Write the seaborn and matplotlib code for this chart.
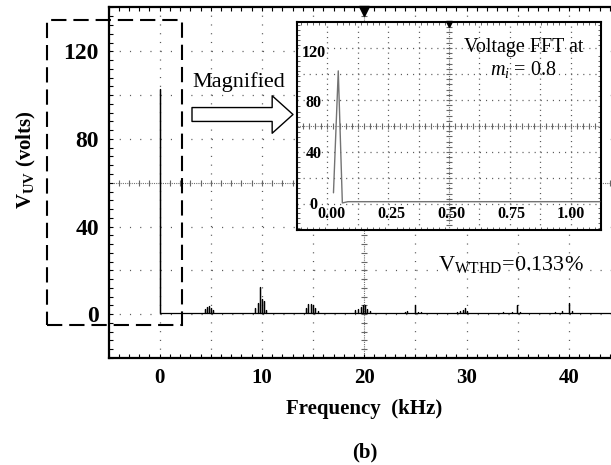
import numpy as np
import pandas as pd
import matplotlib
matplotlib.use("Agg")
import matplotlib.pyplot as plt
import seaborn as sns
from matplotlib.patches import Rectangle, FancyArrowPatch
from matplotlib.ticker import MultipleLocator

# ------------------------------------------------------------------ data
fund_freq_khz = 0.0
fund_amp_v = 103.0
noise_floor_v = 0.4
trace_end_khz = 45.0

harm_freq_khz = [4.44, 4.67, 4.83, 5.00, 5.22,
                 9.34, 9.57, 9.83, 10.00, 10.22, 10.39,
                 14.31, 14.54, 14.77, 14.96, 15.20, 15.45,
                 19.05, 19.37, 19.64, 19.87, 20.07, 20.26, 20.52,
                 23.95, 24.18, 24.93, 25.26, 25.59,
                 29.02, 29.34, 29.67, 29.87, 30.06,
                 33.59, 34.41, 34.90, 35.23,
                 38.66, 39.31, 40.00, 40.30]
harm_amp_v = [2.5, 3.2, 3.6, 3.0, 2.0,
              3.0, 5.0, 12.5, 7.0, 6.0, 2.0,
              3.0, 4.5, 4.5, 4.0, 3.0, 1.5,
              2.0, 2.5, 3.5, 4.0, 4.0, 2.5, 1.5,
              1.0, 1.5, 4.0, 1.0, 0.8,
              1.0, 1.5, 2.0, 2.7, 1.5,
              1.0, 1.0, 4.0, 1.0,
              1.0, 1.5, 5.0, 1.5]

x_ticks = [0, 10, 20, 30, 40]
x_tick_labels = ["0", "10", "20", "30", "40"]
y_ticks = [0, 40, 80, 120]
y_tick_labels = ["0", "40", "80", "120"]

# magnified inset (kHz, volts)
inset_freq_khz = [0.010, 0.030, 0.047, 0.070, 1.120]
inset_amp_v = [8.0, 104.0, 0.0, 1.0, 1.0]
inset_x_ticks = [0.0, 0.25, 0.50, 0.75, 1.00]
inset_x_tick_labels = ["0.00", "0.25", "0.50", "0.75", "1.00"]
inset_y_ticks = [0, 40, 80, 120]
inset_y_tick_labels = ["0", "40", "80", "120"]

# ------------------------------------------------------------------ style
sns.set_theme(style="white")
plt.rcParams["font.family"] = ["Liberation Serif", "DejaVu Serif"]
plt.rcParams["mathtext.fontset"] = "custom"
plt.rcParams["mathtext.rm"] = "Liberation Serif"
plt.rcParams["mathtext.it"] = "Liberation Serif:italic"
plt.rcParams["mathtext.bf"] = "Liberation Serif:bold"
plt.rcParams["lines.scale_dashes"] = False

W, H = 611, 465
fig = plt.figure(figsize=(W / 100, H / 100), dpi=100)
fig.patch.set_facecolor("white")


def fx(px):
    return px / W


def fy(py):
    return 1 - py / H


def scope_grid(ax, nx, ny, wpx, hpx, grid_color="0.35"):
    """Oscilloscope style dotted graticule with a ticked centre cross."""
    tr = ax.transAxes
    sub_x = wpx / nx / 5 * 0.72  # points between dots along horizontal lines
    sub_y = hpx / ny / 5 * 0.72
    for i in range(1, nx):
        if i == nx // 2:
            continue
        ax.plot([i / nx, i / nx], [0, 1], transform=tr, color=grid_color,
                lw=0.9, dashes=(0.8, sub_y - 0.8), zorder=0.5)
    for j in range(1, ny):
        if j == ny // 2:
            continue
        ax.plot([0, 1], [j / ny, j / ny], transform=tr, color=grid_color,
                lw=0.9, dashes=(0.8, sub_x - 0.8), zorder=0.5)
    # centre cross
    ax.plot([0, 1], [0.5, 0.5], transform=tr, color="0.45", lw=0.8,
            dashes=(0.8, 0.8), zorder=0.5)
    ax.plot([0.5, 0.5], [0, 1], transform=tr, color="0.45", lw=0.8,
            dashes=(0.8, 0.8), zorder=0.5)
    mx = np.arange(1, nx * 5) / (nx * 5)
    my = np.arange(1, ny * 5) / (ny * 5)
    ax.plot(mx, np.full_like(mx, 0.5), transform=tr, ls="none", marker="|",
            ms=4, mew=0.8, color="0.4", zorder=0.5)
    ax.plot(np.full_like(my, 0.5), my, transform=tr, ls="none", marker="_",
            ms=4, mew=0.8, color="0.4", zorder=0.5)


# ------------------------------------------------------------------ main axes
ax_l, ax_r, ax_t, ax_b = 108.5, 620.0, 7.5, 358.0
ax = fig.add_axes([fx(ax_l), fy(ax_b), (ax_r - ax_l) / W, (ax_b - ax_t) / H])
ax.set_facecolor("white")
ax.set_xlim(-5, 45)
ax.set_ylim(-20, 140)
scope_grid(ax, 10, 8, ax_r - ax_l, ax_b - ax_t)

# spectrum trace
tx = [fund_freq_khz, fund_freq_khz, fund_freq_khz]
ty = [noise_floor_v, fund_amp_v, noise_floor_v]
for f, a in zip(harm_freq_khz, harm_amp_v):
    tx += [f, f, f]
    ty += [noise_floor_v, a, noise_floor_v]
tx.append(trace_end_khz)
ty.append(noise_floor_v)
trace = pd.DataFrame({"freq": tx, "amp": ty})
sns.lineplot(data=trace, x="freq", y="amp", sort=False, estimator=None,
             color="black", lw=0.9, ax=ax, zorder=3)

ax.set_xticks(x_ticks)
ax.set_xticklabels(x_tick_labels, fontsize=15, fontweight="bold")
ax.set_yticks(y_ticks)
ax.set_yticklabels(y_tick_labels, fontsize=17, fontweight="bold")
ax.xaxis.set_minor_locator(MultipleLocator(1))
ax.yaxis.set_minor_locator(MultipleLocator(4))
ax.tick_params(which="both", direction="in", bottom=True, top=True,
               left=True, right=False, length=3, width=0.8, color="black")
ax.tick_params(axis="x", which="major", pad=7, colors="black")
ax.tick_params(axis="y", which="major", pad=7, colors="black")
for s in ax.spines.values():
    s.set_visible(True)
    s.set_color("black")
    s.set_linewidth(1.6)

ax.set_xlabel("Frequency  (kHz)", fontsize=15, fontweight="bold", color="black")
ax.xaxis.set_label_coords(0.5, -0.118)
ax.set_ylabel(r"$\mathbf{V}_{\mathbf{UV}}$ (volts)", fontsize=15,
              fontweight="bold", color="black")
ax.yaxis.set_label_coords(-0.137, 0.565)
ax.plot([0.5], [1 - 3.5 / (ax_b - ax_t)], transform=ax.transAxes, marker="v",
        ms=7, color="black", clip_on=False, zorder=5)

# ------------------------------------------------------------------ inset
in_l, in_r, in_t, in_b = 297.0, 601.0, 22.0, 230.0
axin = fig.add_axes([fx(in_l), fy(in_b), (in_r - in_l) / W, (in_b - in_t) / H])
axin.set_facecolor("white")
axin.set_xlim(-0.142, 1.125)
axin.set_ylim(-21.3, 142.5)
scope_grid(axin, 10, 8, in_r - in_l, in_b - in_t)
inset_df = pd.DataFrame({"freq": inset_freq_khz, "amp": inset_amp_v})
sns.lineplot(data=inset_df, x="freq", y="amp", sort=False, estimator=None,
             color="0.45", lw=1.0, ax=axin, zorder=3)
axin.set_xticks(inset_x_ticks)
axin.set_xticklabels(inset_x_tick_labels, fontsize=11.5, fontweight="bold")
axin.set_yticks(inset_y_ticks)
axin.set_yticklabels(inset_y_tick_labels, fontsize=11.5, fontweight="bold")
axin.xaxis.set_minor_locator(MultipleLocator(0.025))
axin.yaxis.set_minor_locator(MultipleLocator(4))
axin.tick_params(which="major", length=0)
axin.tick_params(which="minor", direction="in", bottom=True, top=True,
                 left=True, right=True, length=2, width=0.6, color="0.3")
axin.tick_params(axis="x", which="major", pad=-17.3, colors="black")
axin.tick_params(axis="y", which="major", pad=-12.0, colors="black")
for lab in axin.get_yticklabels():
    lab.set_ha("center")
axin.set_xlabel("")
axin.set_ylabel("")
for s in axin.spines.values():
    s.set_visible(True)
    s.set_color("black")
    s.set_linewidth(1.5)
axin.plot([0.5], [1 - 2.5 / (in_b - in_t)], transform=axin.transAxes,
          marker="v", ms=5, color="black", clip_on=False, zorder=5)
fig.text(fx(524), fy(51.7), "Voltage FFT at", fontsize=14.5, ha="center",
         va="baseline", color="black")
fig.text(fx(523), fy(75), r"$m_i$ = 0.8", fontsize=14.5, ha="center",
         va="baseline", color="black")

# ------------------------------------------------------------------ annotations
fig.add_artist(Rectangle((fx(47), fy(325)), (182 - 47) / W, (325 - 20) / H,
                         transform=fig.transFigure, fill=False, ec="black",
                         lw=1.5, ls=(0, (11, 5)), zorder=6))
fig.add_artist(FancyArrowPatch((fx(192), fy(114.5)), (fx(293), fy(114.5)),
                               transform=fig.transFigure,
                               arrowstyle="simple,head_length=15,head_width=27,tail_width=10",
                               mutation_scale=1, shrinkA=0, shrinkB=0,
                               fc="white", ec="black", lw=1.0, zorder=6))
fig.text(fx(239), fy(87.3), "Magnified", fontsize=16, ha="center",
         va="baseline", color="black")
fig.text(fx(438), fy(270), r"V$_{\mathrm{WTHD}}$=0.133%", fontsize=16,
         ha="left", va="baseline", color="black")
fig.text(fx(365), fy(452), "(b)", fontsize=15, fontweight="bold", ha="center",
         va="center", color="black")

fig.savefig("out.png", dpi=100, facecolor="white")
